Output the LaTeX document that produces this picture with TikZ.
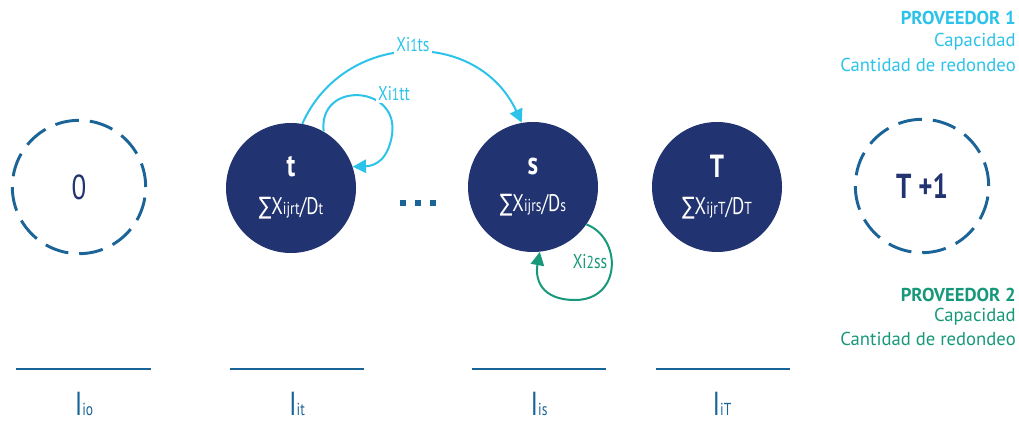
\documentclass[tikz,border=0pt]{standalone}
\usepackage{fontspec}
\setmainfont{PT Sans}
\newfontfamily\narrow{PT Sans}[FakeStretch=0.78]
\newfontfamily\symfont{DejaVu Sans}[FakeStretch=0.78]
\usetikzlibrary{arrows.meta}

\definecolor{navy}{HTML}{213370}
\definecolor{steel}{HTML}{1A6497}
\definecolor{sky}{HTML}{2CC3EA}
\definecolor{jade}{HTML}{18987A}

\newcommand{\sm}[1]{{\fontsize{13}{13}\selectfont #1}}

\begin{document}
\begin{tikzpicture}[x=0.75pt,y=-0.75pt,
    period/.style={circle,fill=navy,minimum size=97.5pt,inner sep=0pt,text=white,align=center,font=\narrow},
    bound/.style={circle,draw=steel,line width=2.2pt,dash pattern=on 18pt off 8.2pt,
      minimum size=100pt,inner sep=0pt,text=navy,font=\narrow\fontsize{26}{26}\selectfont},
    flow/.style={-{Triangle[length=10pt,width=10pt]},line width=1.5pt},
    flowlbl/.style={fill=white,inner sep=1.5pt,font=\narrow\fontsize{15}{15}\selectfont},
    stock/.style={draw=steel,line width=1.6pt},
    legend/.style={anchor=east,inner sep=0pt,font=\fontsize{14}{14}\selectfont}]
  \useasboundingbox (0,0) rectangle (1019,434);

  % periods
  \node (n0) at (79,187) [bound] {0};
  \node (nt) at (291,188) [period] {{\fontsize{24}{24}\selectfont\bfseries t}\\[14pt]
    {\fontsize{18}{18}\selectfont{\symfont ∑}X\sm{ijrt}/D\sm{t}}};
  \node (ns) at (533,187) [period] {{\fontsize{24}{24}\selectfont\bfseries s}\\[14pt]
    {\fontsize{18}{18}\selectfont{\symfont ∑}X\sm{ijrs}/D\sm{s}}};
  \node (nT) at (717,187) [period] {{\fontsize{24}{24}\selectfont\bfseries T}\\[14pt]
    {\fontsize{18}{18}\selectfont{\symfont ∑}X\sm{ijrT}/D\sm{T}}};
  \node (nend) at (922,186) [bound] {\bfseries T +1};

  \foreach \x in {403,418,433}
    \fill[steel] (\x-3,200) rectangle (\x+3,206);

  % proveedor 1
  \draw[flow,sky] (nt.80) .. controls (344,30) and (478,28) .. (ns.100);
  \node (x1ts) at (413,45) [flowlbl,text=sky] {Xi\sm{1}ts};
  \draw[flow,sky] (nt.60) .. controls (318,80) and (400,85) .. (392,135)
    .. controls (388,160) and (375,166) .. (nt.19);
  \node (x1tt) at (394,94) [flowlbl,text=sky] {Xi\sm{1}tt};

  % proveedor 2
  \draw[flow,jade] (ns.-35) .. controls (622,238) and (622,300) .. (575,300)
    .. controls (540,300) and (535,278) .. (ns.-84);
  \node (x2ss) at (590,262) [flowlbl,text=jade] {Xi\sm{2}ss};

  % inventarios
  \coordinate (a0) at (16,369);  \coordinate (b0) at (151,369);
  \coordinate (at) at (230,369); \coordinate (bt) at (364,369);
  \coordinate (as) at (472,369); \coordinate (bs) at (606,369);
  \coordinate (aT) at (656,369); \coordinate (bT) at (790,369);
  \draw[stock] (a0) -- (b0);
  \draw[stock] (at) -- (bt);
  \draw[stock] (as) -- (bs);
  \draw[stock] (aT) -- (bT);
  \node (i0) at (84,404) [text=steel,font=\narrow] {\fontsize{25}{25}\selectfont I\sm{io}};
  \node (it) at (297,404) [text=steel,font=\narrow] {\fontsize{25}{25}\selectfont I\sm{it}};
  \node (is) at (539,404) [text=steel,font=\narrow] {\fontsize{25}{25}\selectfont I\sm{is}};
  \node (iT) at (722,404) [text=steel,font=\narrow] {\fontsize{25}{25}\selectfont I\sm{iT}};

  % leyenda
  \node (p1) at (1016,18) [legend,text=sky] {\bfseries PROVEEDOR 1};
  \node (p1a) at (1016,42) [legend,text=sky] {Capacidad};
  \node (p1b) at (1016,65) [legend,text=sky] {Cantidad de redondeo};
  \node (p2) at (1016,295) [legend,text=jade] {\bfseries PROVEEDOR 2};
  \node (p2a) at (1016,317) [legend,text=jade] {Capacidad};
  \node (p2b) at (1016,339) [legend,text=jade] {Cantidad de redondeo};
\end{tikzpicture}
\end{document}
